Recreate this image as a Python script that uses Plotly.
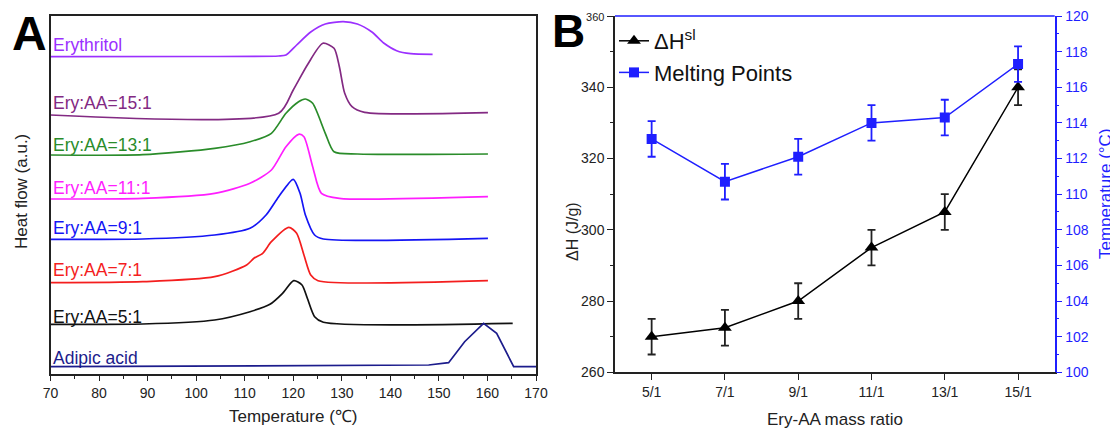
import plotly.graph_objects as go

# ---------------- Panel A data (DSC curves, heat flow in arbitrary units, offset stacked) -------------
ery_T = [70, 100, 117, 118.5, 120.7, 123.6, 126.6, 130.3, 133.2, 136.2, 138.7, 141.3, 144.2, 148.7]
ery_H = [31.73, 31.75, 31.8, 31.9, 32.9, 34.2, 35.0, 35.23, 35.0, 34.2, 33.07, 32.33, 32.03, 31.97]

r15_T = [70, 117, 120, 122.9, 126.1, 128.4, 129.5, 130.6, 132.1, 134.7, 160.1]
r15_H = [25.9, 26.07, 28.4, 30.9, 33.07, 32.57, 30.73, 28.07, 26.73, 26.17, 26.13]

r13_T = [70, 89, 103.8, 111.1, 115.5, 118.5, 121.1, 122.5, 124.0, 126.6, 128.4, 133.2, 160.1]
r13_H = [21.9, 21.93, 22.57, 23.23, 24.07, 26.07, 27.23, 27.5, 27.07, 24.07, 22.23, 22.0, 22.0]

r11_T = [70, 89, 103.8, 111.1, 115.5, 118.5, 121.1, 122.2, 124.0, 125.8, 129.5, 160.1]
r11_H = [17.5, 17.57, 18.07, 19.07, 20.4, 22.73, 23.97, 23.73, 20.73, 18.07, 17.57, 17.73]

r9_T = [70, 89, 103.8, 111.1, 114.4, 117.0, 120.0, 121.4, 122.5, 124.4, 126.2, 160.1]
r9_H = [13.47, 13.5, 13.9, 14.57, 15.9, 17.73, 19.47, 18.07, 15.9, 13.9, 13.5, 13.57]

r7_T = [70, 89, 103.8, 110.4, 111.9, 113.7, 115.5, 119.1, 120.7, 122.2, 123.6, 125.1, 160.1]
r7_H = [9.13, 9.23, 9.73, 10.9, 11.57, 12.07, 13.23, 14.67, 14.07, 11.9, 9.9, 9.33, 9.33]

r5_T = [70, 89, 103.8, 111.1, 115.2, 117.8, 120.1, 121.8, 122.9, 124.4, 126.2, 165.2]
r5_H = [4.97, 5.0, 5.4, 6.23, 6.97, 8.07, 9.33, 8.9, 7.57, 5.73, 5.17, 5.07]

aa_T = [70, 147.9, 152.0, 155.3, 159.2, 161.9, 165.4, 170]
aa_H = [0.73, 0.9, 1.13, 3.23, 5.07, 4.07, 0.73, 0.73]

curve_names = ["Erythritol", "Ery:AA=15:1", "Ery:AA=13:1", "Ery:AA=11:1",
               "Ery:AA=9:1", "Ery:AA=7:1", "Ery:AA=5:1", "Adipic acid"]
curve_T = [ery_T, r15_T, r13_T, r11_T, r9_T, r7_T, r5_T, aa_T]
curve_H = [ery_H, r15_H, r13_H, r11_H, r9_H, r7_H, r5_H, aa_H]
label_H = [32.93, 27.15, 22.9, 18.65, 14.6, 10.37, 5.7, 1.63]
curve_colors = ["#9B30FF", "#832A83", "#2A8C2A", "#FF1EFF", "#1515F5", "#F41E1E", "#111111", "#1C1C8C"]
curve_shapes = ["spline", "spline", "spline", "spline", "spline", "spline", "spline", "linear"]

tempA_ticks = list(range(70, 171, 10))

# ---------------- Panel B data -------------
ratio = ["5/1", "7/1", "9/1", "11/1", "13/1", "15/1"]
dH = [270, 272.5, 280, 295, 305, 340]
dH_err = [5, 5, 5, 5, 5, 5]
mp = [113.1, 110.7, 112.1, 114.0, 114.3, 117.3]
mp_err = [1, 1, 1, 1, 1, 1]

dH_ticks = [260, 280, 300, 320, 340, 360]
mp_ticks = list(range(100, 121, 2))

# page body has an 8px margin; the figure is sized so it fits the 1118x430 window
OFF = 8
W, H = 1118 - OFF, 430 - OFF
def px_x(p):
    return (p - OFF) / W
def px_y(p):
    return 1 - (p - OFF) / H

BLUE = "#1F1FFF"
DARK = "#222222"
FONT = "Liberation Sans, Arial, sans-serif"

fig = go.Figure()

for name, T, Hf, col, shp in zip(curve_names, curve_T, curve_H, curve_colors, curve_shapes):
    fig.add_trace(go.Scatter(x=T, y=Hf, mode="lines", name=name, showlegend=False,
                             line=dict(color=col, width=1.7, shape=shp, smoothing=0.7),
                             xaxis="x", yaxis="y"))

fig.add_trace(go.Scatter(x=ratio, y=dH, mode="lines+markers", name="ΔH<sup>sl</sup>",
                         line=dict(color="black", width=1.5),
                         marker=dict(symbol="triangle-up", size=12, color="black"),
                         error_y=dict(type="data", array=dH_err, color=DARK, thickness=1.8, width=4),
                         xaxis="x2", yaxis="y2"))
fig.add_trace(go.Scatter(x=ratio, y=mp, mode="lines+markers", name="Melting Points",
                         line=dict(color=BLUE, width=1.5),
                         marker=dict(symbol="square", size=10, color=BLUE),
                         error_y=dict(type="data", array=mp_err, color=BLUE, thickness=1.8, width=4),
                         xaxis="x2", yaxis="y3"))

annotations = []
for name, yh, col in zip(curve_names, label_H, curve_colors):
    annotations.append(dict(x=70.2, y=yh, xref="x", yref="y", text=name, showarrow=False,
                            xanchor="left", yanchor="middle",
                            font=dict(family=FONT, size=17.5, color=col)))

annotations += [
    dict(x=px_x(29.5), y=px_y(33), xref="paper", yref="paper", text="<b>A</b>", showarrow=False,
         font=dict(family=FONT, size=48, color="black"), xanchor="center", yanchor="middle"),
    dict(x=px_x(569), y=px_y(31), xref="paper", yref="paper", text="<b>B</b>", showarrow=False,
         font=dict(family=FONT, size=46, color="black"), xanchor="center", yanchor="middle"),
    dict(x=px_x(21), y=px_y(192), xref="paper", yref="paper", text="Heat flow (a.u.)", showarrow=False,
         textangle=-90, font=dict(family=FONT, size=17, color=DARK), xanchor="center", yanchor="middle"),
    dict(x=px_x(293), y=px_y(416), xref="paper", yref="paper", text="Temperature (℃)", showarrow=False,
         font=dict(family=FONT, size=17, color=DARK), xanchor="center", yanchor="middle"),
    dict(x=px_x(572), y=px_y(232), xref="paper", yref="paper", text="ΔH (J/g)", showarrow=False,
         textangle=-90, font=dict(family=FONT, size=16, color=DARK), xanchor="center", yanchor="middle"),
    dict(x=px_x(835), y=px_y(419), xref="paper", yref="paper", text="Ery-AA mass ratio", showarrow=False,
         font=dict(family=FONT, size=17, color=DARK), xanchor="center", yanchor="middle"),
    dict(x=px_x(1105), y=px_y(194), xref="paper", yref="paper", text="Temperature (°C)", showarrow=False,
         textangle=-90, font=dict(family=FONT, size=17, color=BLUE), xanchor="center", yanchor="middle"),
]

dH_text = ["<span style='font-size:11px'>%d</span>" % v if v == 360 else str(v) for v in dH_ticks]

fig.update_layout(
    template="none",
    width=W, height=H,
    margin=dict(l=0, r=0, t=0, b=0, pad=0, autoexpand=False),
    paper_bgcolor="white", plot_bgcolor="white",
    font=dict(family=FONT, color=DARK),
    xaxis=dict(domain=[px_x(50.5), px_x(536)], range=[70, 170], tickvals=tempA_ticks,
               ticks="outside", ticklen=5, tickwidth=1.2, tickcolor=DARK,
               minor=dict(dtick=5, ticks="outside", ticklen=3, tickcolor=DARK),
               showline=True, linecolor=DARK, linewidth=1.5, mirror=True,
               showgrid=False, zeroline=False, anchor="y", automargin=False,
               ticklabeloverflow="allow",
               tickfont=dict(family=FONT, size=14, color=DARK)),
    yaxis=dict(domain=[px_y(374), px_y(15.7)], range=[0, 35.83], showticklabels=False,
               ticks="", showline=True, linecolor=DARK, linewidth=1.5, mirror=True,
               showgrid=False, zeroline=False, anchor="x", automargin=False),
    xaxis2=dict(domain=[px_x(615), px_x(1054.7)], type="category", range=[-0.5, 5.5],
                ticks="outside", ticklen=6, tickwidth=1.2, tickcolor=DARK,
                showline=True, linecolor=DARK, linewidth=1.5,
                showgrid=False, zeroline=False, anchor="y2", automargin=False,
                ticklabeloverflow="allow",
                tickfont=dict(family=FONT, size=14, color=DARK)),
    yaxis2=dict(domain=[px_y(372.3), px_y(16)], range=[260, 360], tickvals=dH_ticks, ticktext=dH_text,
                ticks="outside", ticklen=6, tickwidth=1.2, tickcolor=DARK,
                minor=dict(dtick=10, ticks="outside", ticklen=3, tickcolor=DARK),
                showline=True, linecolor=DARK, linewidth=1.5,
                showgrid=False, zeroline=False, anchor="x2", side="left", automargin=False,
                ticklabeloverflow="allow",
                tickfont=dict(family=FONT, size=14, color=DARK)),
    yaxis3=dict(domain=[px_y(372.3), px_y(16)], range=[100, 120], tickvals=mp_ticks,
                overlaying="y2", side="right", anchor="x2", automargin=False,
                ticklabeloverflow="allow",
                ticks="outside", ticklen=6, tickwidth=1.2, tickcolor=BLUE,
                minor=dict(dtick=1, ticks="outside", ticklen=3, tickcolor=BLUE),
                showline=True, linecolor=BLUE, linewidth=1.5,
                showgrid=False, zeroline=False,
                tickfont=dict(family=FONT, size=14, color=BLUE)),
    legend=dict(x=px_x(614), y=px_y(20), xanchor="left", yanchor="top",
                bgcolor="rgba(0,0,0,0)", font=dict(family=FONT, size=22, color="#111"),
                itemwidth=30, tracegroupgap=0),
    annotations=annotations,
    shapes=[dict(type="line", xref="x2 domain", yref="y2 domain", x0=0, x1=1, y0=1, y1=1,
                 line=dict(color=BLUE, width=1.5))],
)

fig.write_html("out.html")
